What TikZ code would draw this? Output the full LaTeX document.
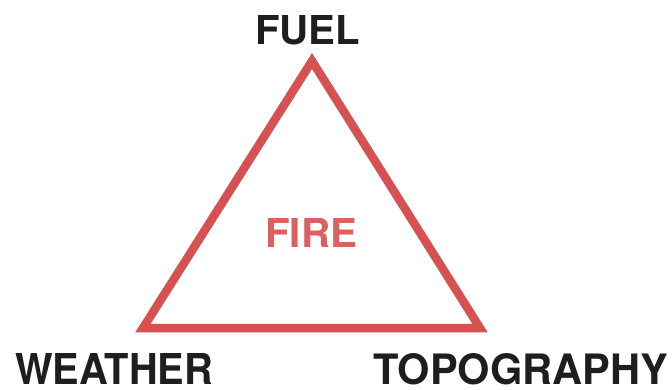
\documentclass[tikz,border=0pt]{standalone}
\usepackage{fontspec}
\setmainfont{TeX Gyre Heros}
\usepackage{graphicx}
\definecolor{firered}{RGB}{214,82,82}
\definecolor{firetext}{RGB}{221,96,96}
\definecolor{labelblack}{RGB}{30,30,32}
\begin{document}
\begin{tikzpicture}[x=1pt,y=-1pt,
  lbl/.style={inner sep=0pt,anchor=base west,text=labelblack},
  edge/.style={draw=firered,line width=8.5pt,miter limit=10,line join=miter}]
\useasboundingbox[fill=white] (0,0) rectangle (672,390);
\coordinate (top) at (312,61);
\coordinate (bl) at (143,328);
\coordinate (br) at (480,328);
\draw[edge] (top) -- (br) -- (bl) -- cycle;
\node[lbl] (fuel) at (255,45) {\resizebox{105pt}{29pt}{\bfseries FUEL}};
\node[lbl,text=firetext] (fire) at (265,248) {\resizebox{92pt}{29pt}{\bfseries FIRE}};
\node[lbl] (weather) at (15,384) {\resizebox{198pt}{31pt}{\bfseries WEATHER}};
\node[lbl] (topo) at (373,384) {\resizebox{295pt}{31pt}{\bfseries TOPOGRAPHY}};
\end{tikzpicture}
\end{document}
